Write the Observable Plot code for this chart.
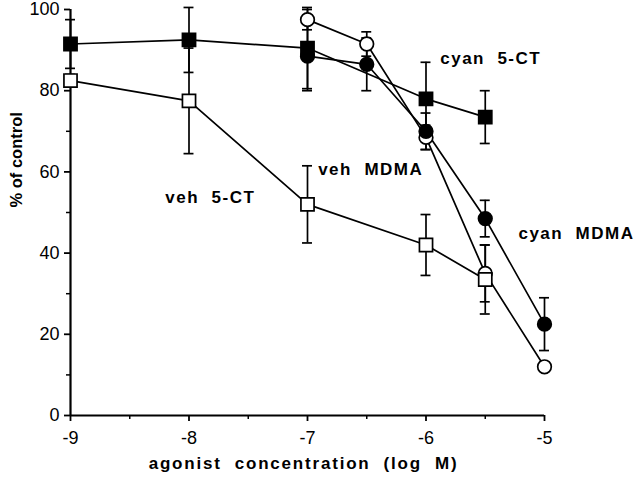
<!DOCTYPE html>
<html>
<head>
<meta charset="utf-8">
<script src="https://cdn.jsdelivr.net/npm/d3@7"></script>
<script src="https://cdn.jsdelivr.net/npm/@observablehq/plot@0.6"></script>
<style>
  html, body { margin: 0; padding: 0; background: #fff; }
  #chart svg { display: block; }
</style>
</head>
<body>
<div id="chart"></div>
<script>
// log molar agonist concentrations
const conc5CT = [-9, -8, -7, -6, -5.5];
const concMDMA = [-7, -6.5, -6, -5.5, -5];

// % of control (mean) and error
const cyan5CT = [91.5, 92.5, 90.5, 78, 73.5];
const cyan5CTErr = [6, 8, 10, 9, 6.5];
const veh5CT = [82.5, 77.5, 52, 42, 33.5];
const veh5CTErr = [1.5, 13, 9.5, 7.5, 8.5];
const cyanMDMA = [88.5, 86.5, 70, 48.5, 22.5];
const cyanMDMAErr = [8.5, 6.5, 4.5, 4.5, 6.5];
const vehMDMA = [97.5, 91.5, 68.5, 35, 12];
const vehMDMAErr = [2.5, 3, 3, 7, 1];

const seriesNames = ["cyan 5-CT", "veh 5-CT", "cyan MDMA", "veh MDMA"];
const labelTexts = ["cyan  5-CT", "veh  MDMA", "veh  5-CT", "cyan  MDMA"];
const labelX = [-5.88, -6.91, -8.2, -5.22];
const labelY = [88, 60.7, 53.6, 44.7];
const yTitle = "% of control";
const xTitle = "agonist  concentration  (log  M)";

const xTicks = [-9, -8, -7, -6, -5];
const xMinorTicks = [-8.5, -7.5, -6.5, -5.5];
const yTicks = [0, 20, 40, 60, 80, 100];
const yMinorTicks = [10, 30, 50, 70, 90];

function build(name, xs, ys, es) {
  return xs.map((x, i) => ({series: name, x, y: ys[i], lo: ys[i] - es[i], hi: ys[i] + es[i]}));
}
const sCyan5CT = build(seriesNames[0], conc5CT, cyan5CT, cyan5CTErr);
const sVeh5CT = build(seriesNames[1], conc5CT, veh5CT, veh5CTErr);
const sCyanMDMA = build(seriesNames[2], concMDMA, cyanMDMA, cyanMDMAErr);
const sVehMDMA = build(seriesNames[3], concMDMA, vehMDMA, vehMDMAErr);
const all = [...sVehMDMA, ...sCyanMDMA, ...sVeh5CT, ...sCyan5CT];
const labels = labelTexts.map((t, i) => ({t, x: labelX[i], y: labelY[i]}));

const capHalf = 0.042; // half cap width in log units
const font = "Liberation Sans, Arial, Helvetica, sans-serif";

const chart = Plot.plot({
  width: 640,
  height: 482,
  marginLeft: 70,
  marginRight: 96,
  marginTop: 9,
  marginBottom: 67,
  style: {fontFamily: font, background: "#fff", color: "#000"},
  x: {domain: [-9, -5], type: "linear"},
  y: {domain: [0, 100]},
  marks: [
    // axis lines
    Plot.ruleX([-9], {y1: 0, y2: 100, stroke: "#000", strokeWidth: 2.2}),
    Plot.ruleY([0], {x1: -9, x2: -5, stroke: "#000", strokeWidth: 2.2}),
    Plot.axisX(xTicks, {tickSize: 6, tickPadding: 10, strokeWidth: 1.8, fontSize: 18, tickFormat: d => String(d), label: null}),
    Plot.axisX(xMinorTicks, {tickSize: 4, strokeWidth: 1.5, tickFormat: null, text: null, label: null}),
    Plot.axisY(yTicks, {tickSize: 6, tickPadding: 5, strokeWidth: 1.8, fontSize: 18, tickFormat: d => String(d), label: null}),
    Plot.axisY(yMinorTicks, {tickSize: 4, strokeWidth: 1.5, tickFormat: null, text: null, label: null}),
    // titles
    Plot.text([yTitle], {frameAnchor: "left", rotate: -90, dx: -54, dy: -5, fontSize: 16.5, fontWeight: "bold", fill: "#000"}),
    Plot.text([xTitle], {frameAnchor: "bottom", dy: 53, dx: -4, fontSize: 17, fontWeight: "bold", fill: "#000"}),
    // error bars
    Plot.ruleX(all, {x: "x", y1: "lo", y2: "hi", stroke: "#000", strokeWidth: 1.7}),
    Plot.ruleY(all, {y: "lo", x1: d => d.x - capHalf, x2: d => d.x + capHalf, stroke: "#000", strokeWidth: 1.7}),
    Plot.ruleY(all, {y: "hi", x1: d => d.x - capHalf, x2: d => d.x + capHalf, stroke: "#000", strokeWidth: 1.7}),
    // lines
    Plot.line(all, {x: "x", y: "y", z: "series", stroke: "#000", strokeWidth: 1.7}),
    // markers
    Plot.dot(sVehMDMA, {x: "x", y: "y", symbol: "circle", r: 6.8, fill: "#fff", stroke: "#000", strokeWidth: 1.7}),
    Plot.dot(sCyanMDMA, {x: "x", y: "y", symbol: "circle", r: 6.8, fill: "#000", stroke: "#000", strokeWidth: 1.7}),
    Plot.dot(sVeh5CT, {x: "x", y: "y", symbol: "square", r: 7.4, fill: "#fff", stroke: "#000", strokeWidth: 1.7}),
    Plot.dot(sCyan5CT, {x: "x", y: "y", symbol: "square", r: 7.4, fill: "#000", stroke: "#000", strokeWidth: 1.7}),
    // series labels
    Plot.text(labels, {x: "x", y: "y", text: "t", textAnchor: "start", fontSize: 17, fontWeight: "bold", fill: "#000"})
  ]
});
chart.querySelectorAll("text").forEach(t => {
  t.setAttribute("xml:space", "preserve");
  t.style.whiteSpace = "pre";
  const s = t.textContent;
  if (labelTexts.includes(s)) t.setAttribute("letter-spacing", "1.5");
  else if (s === xTitle) t.setAttribute("letter-spacing", "1.8");
});
document.getElementById("chart").appendChild(chart);
</script>
</body>
</html>
